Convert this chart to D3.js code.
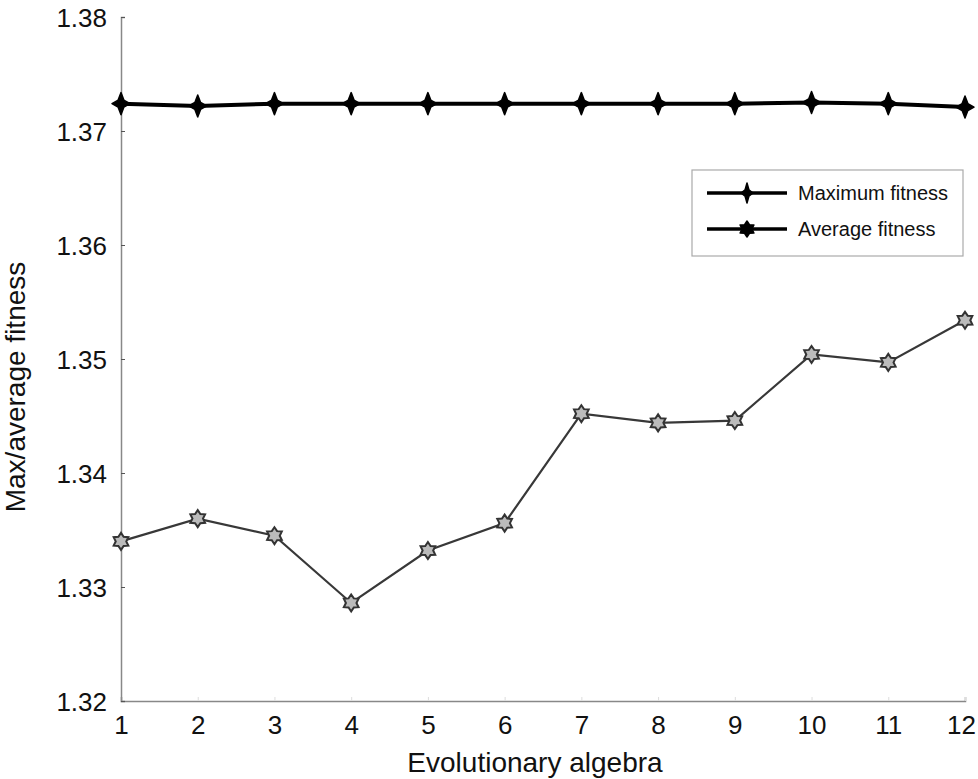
<!DOCTYPE html>
<html>
<head>
<meta charset="utf-8">
<script src="https://cdn.jsdelivr.net/npm/d3@7"></script>
<style>
  body { margin: 0; background: #fff; }
  text { font-family: "Liberation Sans", Arial, sans-serif; }
</style>
</head>
<body>
<svg id="chart" width="978" height="779"></svg>
<script>
const generations = [1, 2, 3, 4, 5, 6, 7, 8, 9, 10, 11, 12];
const maxFitness = [1.3724, 1.3722, 1.3724, 1.3724, 1.3724, 1.3724, 1.3724, 1.3724, 1.3724, 1.3725, 1.3724, 1.3721];
const avgFitness = [1.3340, 1.3360, 1.3345, 1.3286, 1.3332, 1.3356, 1.3452, 1.3444, 1.3446, 1.3504, 1.3497, 1.3534];
const yTicks = [1.32, 1.33, 1.34, 1.35, 1.36, 1.37, 1.38];
const seriesNames = ["Maximum fitness", "Average fitness"];

const svg = d3.select("#chart");

const x = d3.scaleLinear().domain([1, 12]).range([121, 965]);
const y = d3.scaleLinear().domain([1.32, 1.38]).range([701, 17]);

// axes
const xAxis = d3.axisBottom(x).tickValues(generations).tickSize(-4).tickPadding(15).tickFormat(d3.format("d"));
const yAxis = d3.axisLeft(y).tickValues(yTicks).tickSize(-4).tickPadding(14).tickFormat(d3.format(".2f"));

const gx = svg.append("g").attr("transform", "translate(0,701)").call(xAxis);
const gy = svg.append("g").attr("transform", "translate(121,0)").call(yAxis);

[gx, gy].forEach(g => {
    g.select(".domain").attr("stroke", "#888").attr("stroke-width", 1.5);
    g.selectAll(".tick line").attr("stroke", "#ddd");
    g.selectAll(".tick text").attr("font-size", 26).attr("fill", "#111")
        .attr("font-family", "'Liberation Sans', Arial, sans-serif");
});
gy.selectAll(".tick line").attr("stroke", "#555");
gy.selectAll(".tick text").attr("dy", "0.36em");
// keep the last label inside the frame
gx.selectAll(".tick text").filter(d => d === 12).attr("dx", -4);

svg.append("text")
    .attr("x", 535).attr("y", 772)
    .attr("text-anchor", "middle")
    .attr("font-size", 28).attr("fill", "#111")
    .text("Evolutionary algebra");

svg.append("text")
    .attr("transform", "translate(25,387) rotate(-90)")
    .attr("text-anchor", "middle")
    .attr("font-size", 28).attr("fill", "#111")
    .text("Max/average fitness");

// marker shapes
function diamondPath(w, h) {
    // rounded four pointed star
    const pts = [];
    for (let i = 0; i < 8; i++) {
        const a = i * Math.PI / 4 - Math.PI / 2;
        const k = i % 2 === 0 ? 1 : 0.45;
        pts.push([k * w * Math.cos(a), k * h * Math.sin(a)]);
    }
    return "M" + pts.map(p => p.join(",")).join("L") + "Z";
}
function hexagramPath(s) {
    const pts = [];
    for (let i = 0; i < 12; i++) {
        const r = i % 2 === 0 ? s : s * 0.62;
        const a = i * Math.PI / 6 - Math.PI / 2;
        pts.push([r * Math.cos(a), r * Math.sin(a)]);
    }
    return "M" + pts.map(p => p.join(",")).join("L") + "Z";
}

const line = d3.line().x((d, i) => x(generations[i])).y(d => y(d));

// average fitness
svg.append("path")
    .datum(avgFitness)
    .attr("d", line)
    .attr("fill", "none")
    .attr("stroke", "#383838")
    .attr("stroke-width", 2.2);

svg.selectAll(".avg-marker")
    .data(avgFitness)
    .enter()
    .append("path")
    .attr("class", "avg-marker")
    .attr("transform", (d, i) => `translate(${x(generations[i])},${y(d)})`)
    .attr("d", hexagramPath(8.5))
    .attr("fill", "#bbb")
    .attr("stroke", "#333")
    .attr("stroke-width", 2);

// maximum fitness
svg.append("path")
    .datum(maxFitness)
    .attr("d", line)
    .attr("fill", "none")
    .attr("stroke", "#000")
    .attr("stroke-width", 4);

svg.selectAll(".max-marker")
    .data(maxFitness)
    .enter()
    .append("path")
    .attr("class", "max-marker")
    .attr("transform", (d, i) => `translate(${x(generations[i])},${y(d)})`)
    .attr("d", diamondPath(9, 11))
    .attr("fill", "#000")
    .attr("stroke", "#000")
    .attr("stroke-width", 1.5)
    .attr("stroke-linejoin", "round");

// legend
const legend = svg.append("g").attr("transform", "translate(692,170)");
legend.append("rect")
    .attr("width", 271).attr("height", 86)
    .attr("fill", "#fff")
    .attr("stroke", "#aaa").attr("stroke-width", 1.2);

const legendRows = legend.selectAll(".row")
    .data(seriesNames)
    .enter()
    .append("g")
    .attr("transform", (d, i) => `translate(0,${23 + i * 36})`);

legendRows.append("line")
    .attr("x1", 15).attr("x2", 95)
    .attr("stroke", "#000").attr("stroke-width", 3.5);

legendRows.append("path")
    .attr("transform", "translate(55,0)")
    .attr("d", (d, i) => i === 0 ? diamondPath(6, 10) : hexagramPath(8))
    .attr("fill", "#000").attr("stroke", "#000").attr("stroke-width", 1.5)
    .attr("stroke-linejoin", "round");

legendRows.append("text")
    .attr("x", 106).attr("dy", "0.36em")
    .attr("font-size", 20).attr("fill", "#111")
    .text(d => d);
</script>
</body>
</html>
